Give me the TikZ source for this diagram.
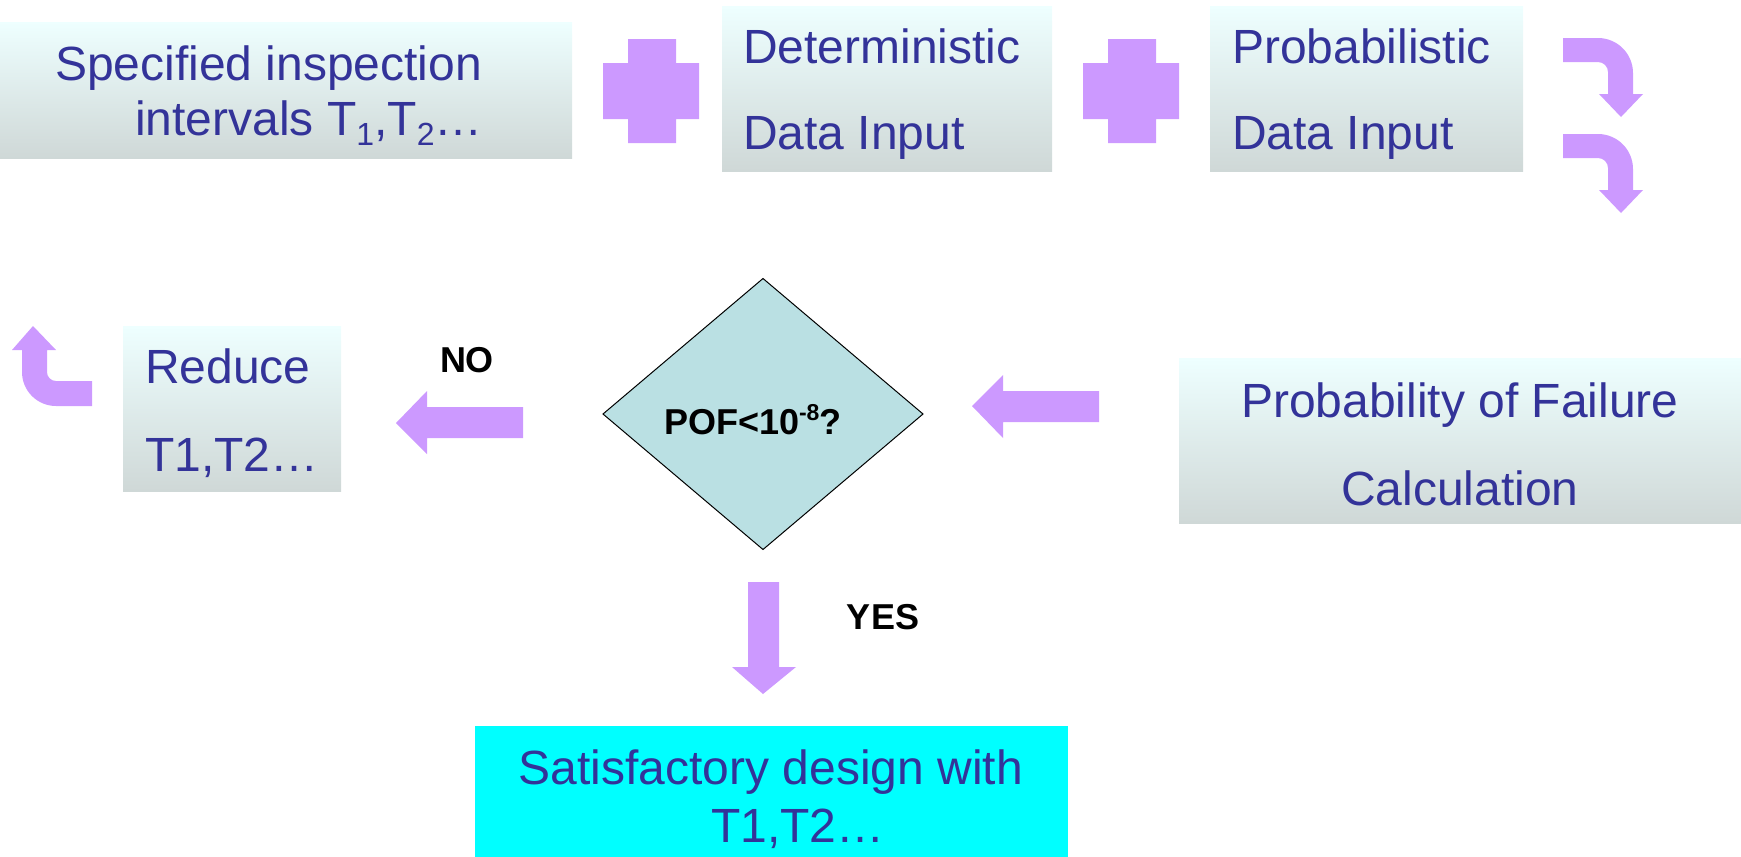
\documentclass[tikz,border=0pt]{standalone}
\usepackage{fontspec}
\setmainfont{Liberation Sans}
\usetikzlibrary{shapes.geometric}
\definecolor{txtblue}{HTML}{333399}
\definecolor{lilac}{HTML}{CC99FF}
\definecolor{boxtop}{HTML}{EEFFFF}
\definecolor{boxbot}{HTML}{CFD8D7}
\definecolor{diafill}{HTML}{BAE0E3}
\definecolor{aqua}{HTML}{00FFFF}
\newcommand{\subdigit}[1]{\raisebox{-0.22em}{\fontsize{32}{32}\selectfont #1}}
\begin{document}
\begin{tikzpicture}[x=1pt,y=-1pt,
  every node/.style={inner sep=0pt, outer sep=0pt},
  panel/.style={rectangle, draw=none, top color=boxtop, bottom color=boxbot},
  words/.style={text=txtblue, font=\fontsize{48}{57}\selectfont, anchor=base west},
  cwords/.style={text=txtblue, font=\fontsize{48}{57}\selectfont, anchor=base},
  tag/.style={font=\bfseries\fontsize{36}{43}\selectfont, anchor=base},
  blockarrow/.style={fill=lilac, draw=none}]
\useasboundingbox (0,0) rectangle (1741,857);

% ---- top row: inputs ----
\node[panel, minimum width=572pt, minimum height=136pt] (spec) at (286,90) {};
\node[words] (spec1) at (55,80) {Specified inspection};
\node[words] (spec2) at (135,135) {intervals T\subdigit{1},T\subdigit{2}…};

\node[panel, minimum width=330pt, minimum height=165pt] (det) at (887,88.5) {};
\node[words] (det1) at (743,63) {Deterministic};
\node[words] (det2) at (743,149) {Data Input};

\node[panel, minimum width=313pt, minimum height=165pt] (prob) at (1366.5,88.5) {};
\node[words] (prob1) at (1232,63) {Probabilistic};
\node[words] (prob2) at (1232,149) {Data Input};

% plus signs between the inputs
\foreach \dx/\nm in {0/plusA, 480/plusB} {
  \begin{scope}[xshift=\dx pt]
    \fill[blockarrow] (628,39) -- (676,39) -- (676,63) -- (699,63) -- (699,119)
      -- (676,119) -- (676,143) -- (628,143) -- (628,119) -- (603,119)
      -- (603,63) -- (628,63) -- cycle;
  \end{scope}
}

% bent arrows on the right
\foreach \dy in {0,96} {
  \begin{scope}[yshift=-\dy pt]
    \fill[blockarrow] (1563,38) -- (1598,38)
      .. controls (1617.3,38) and (1633,53.7) .. (1633,73)
      -- (1633,94) -- (1643,94) -- (1621,117) -- (1599,94) -- (1608,94)
      -- (1608,72) .. controls (1608,66.5) and (1603.5,62) .. (1598,62)
      -- (1563,62) -- cycle;
  \end{scope}
}

% ---- middle row ----
\node[panel, minimum width=562pt, minimum height=165pt] (pof) at (1460,440.5) {};
\node[cwords] (pof1) at (1460,417) {Probability of Failure};
\node[cwords] (pof2) at (1460,505) {Calculation};

\fill[blockarrow] (972,406) -- (1003,375) -- (1003,391) -- (1099,391)
  -- (1099,422) -- (1003,422) -- (1003,438) -- cycle;

\node[diamond, draw=black, line width=1pt, fill=diafill,
      minimum width=320pt, minimum height=271pt] (check) at (763,414) {};
\node[font=\bfseries\fontsize{36}{43}\selectfont, anchor=base west] (checkt) at (664,434)
  {POF<10\raisebox{0.38em}{\fontsize{23}{23}\selectfont -8}?};

\fill[blockarrow] (396,423) -- (427,391) -- (427,407) -- (523,407)
  -- (523,438) -- (427,438) -- (427,454) -- cycle;
\node[tag] (no) at (467,372) {NO};

\node[panel, minimum width=218pt, minimum height=165pt] (reduce) at (232,408.5) {};
\node[words] (red1) at (145,383) {Reduce};
\node[words] (red2) at (145,471) {T1,T2…};

% bent arrow back to the top
\fill[blockarrow] (33,326) -- (56,350) -- (47,350) -- (47,372)
  .. controls (47,377) and (51,381) .. (56,381) -- (92,381) -- (92,406)
  -- (56,406) .. controls (37.2,406) and (22,390.8) .. (22,372)
  -- (22,350) -- (12,350) -- cycle;

% ---- bottom: outcome ----
\fill[blockarrow] (748,582) -- (779,582) -- (779,667) -- (796,667)
  -- (763,694) -- (732,667) -- (748,667) -- cycle;
\node[tag] (yes) at (883,629) {YES};

\node[rectangle, fill=aqua, minimum width=593pt, minimum height=131pt] (ok) at (771.5,791.5) {};
\node[cwords] (ok1) at (771,784) {Satisfactory design with};
\node[words] (ok2) at (711,842) {T1,T2…};
\end{tikzpicture}
\end{document}
